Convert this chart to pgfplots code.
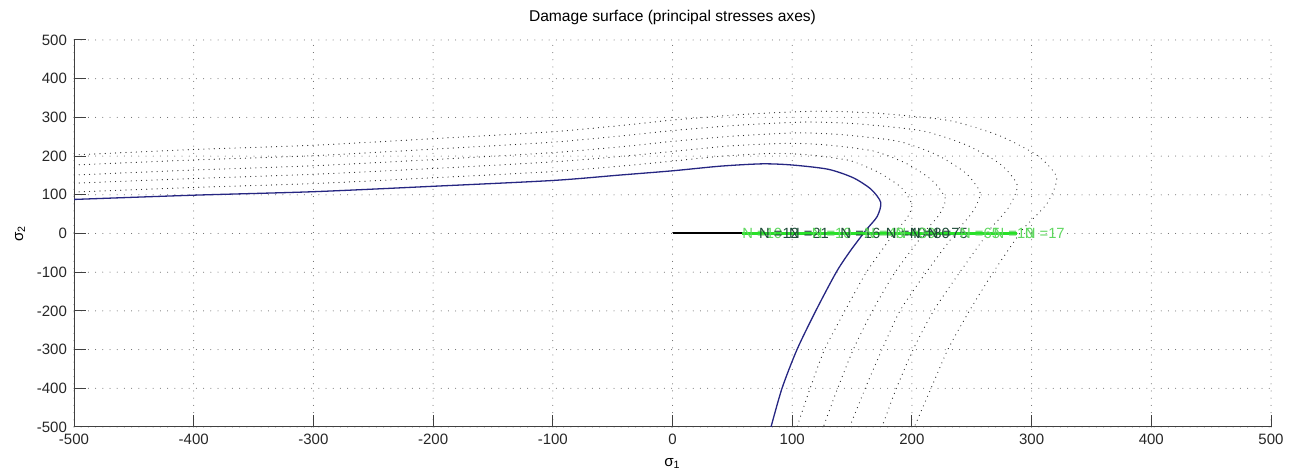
\documentclass[border=0pt]{standalone}
\usepackage{fontspec}
\setmainfont{Liberation Sans}
\usepackage{pgfplots}
\pgfplotsset{compat=1.18}
\definecolor{curveblue}{RGB}{38,38,130}
\definecolor{labgreen}{RGB}{95,215,95}
\definecolor{labdark}{RGB}{30,75,55}
\definecolor{linegreen}{RGB}{40,225,40}
\begin{document}
\begin{tikzpicture}
\useasboundingbox (-37pt,-24.5pt) rectangle (613.5pt,213.5pt);
\begin{axis}[at={(0,0)}, anchor=south west, scale only axis,
  width=598.5pt, height=193.5pt,
  xmin=-500, xmax=500, ymin=-500, ymax=500,
  axis x line=bottom, axis y line=left,
  axis line style={draw=black!75, line width=0.5pt, -},
  xtick={-500,-400,-300,-200,-100,0,100,200,300,400,500},
  ytick={-500,-400,-300,-200,-100,0,100,200,300,400,500},
  xticklabels={-500,-400,-300,-200,-100,0,100,200,300,400,500},
  yticklabels={-500,-400,-300,-200,-100,0,100,200,300,400,500},
  tick align=inside, major tick length=6pt,
  tick style={draw=black!75, line width=0.5pt},
  tick label style={font=\fontsize{7.5}{8.5}\selectfont, text=black!85},
  grid=major,
  major grid style={draw=black!65, line width=0.5pt, line cap=round, dash pattern=on 0pt off 3.6pt},
  title={Damage surface (principal stresses axes)},
  title style={at={(axis description cs:0.5,1.0284)}, anchor=center, font=\fontsize{7.8}{9}\selectfont},
  xlabel={σ\textsubscript{1}},
  ylabel={σ\textsubscript{2}},
  xlabel style={at={(axis description cs:0.5,-0.093)}, anchor=center, font=\fontsize{7.6}{9}\selectfont},
  ylabel style={at={(axis description cs:-0.0451,0.5)}, anchor=center, font=\fontsize{7.6}{9}\selectfont},
  clip=true,
]
% dotted damage surfaces
\pgfplotsset{dotsurf/.style={draw=black!85, line width=0.6pt, line cap=round, dash pattern=on 0pt off 2.6pt, smooth, tension=0.4}}
\addplot[dotsurf] coordinates {
(-500,107) (-400,119) (-300,129) (-200,144) (-100,160) (-40,175) (0,187) (42,200) (85,207) (114,203) (148,188.5) (172,158) (191,119) (200,75) (196,40.5) (187,8) (185,0) (162,-100) (144,-200) (127,-300) (115,-400) (104,-500)};
\addplot[dotsurf] coordinates {
(-500,130) (-400,142) (-300,153) (-200,168) (-100,185) (-40,200) (0,212) (47,226) (95,233) (128,229) (168,213) (196,180) (217,137) (228,90) (223,49) (212,10) (210,0) (186,-100) (167,-200) (151,-300) (138,-400) (126,-500)};
\addplot[dotsurf] coordinates {
(-500,151) (-400,164) (-300,175) (-200,191) (-100,209) (-40,225) (0,238) (52,252) (105,260) (143,255) (189,238) (221,203) (245,156) (257,105) (251,57) (239,12) (236,0) (212,-100) (190,-200) (175,-300) (161,-400) (148,-500)};
\addplot[dotsurf] coordinates {
(-500,177) (-400,190) (-300,201) (-200,218) (-100,236) (-40,253) (0,266) (56,280) (112,288) (156,283) (209,265) (246,228) (274,179) (288,125) (281,68) (266,14) (263,0) (240,-100) (218,-200) (201,-300) (187,-400) (175,-500)};
\addplot[dotsurf] coordinates {
(-500,203) (-400,217) (-300,228) (-200,245) (-100,263) (-40,280) (0,293) (60,308) (120,316) (170,311) (231,292) (273,253) (305,201) (321,145) (313,78) (294,16) (290,0) (268,-100) (248,-200) (230,-300) (216,-400) (202,-500)};
% solid current surface
\addplot[draw=curveblue, line width=0.65pt, smooth, tension=0.45] coordinates {
(-500,88) (-400,99) (-300,108) (-200,122) (-100,137) (-44,151) (0,162) (40,174) (75,180) (100,177) (130,166) (151,144) (166,114) (174,80) (171,44) (162,10) (149,-43) (137,-99) (120,-198) (104,-300) (91.5,-400) (82.3,-500)};
% loading path
\addplot[draw=black, line width=1pt] coordinates {(0,0) (58,0)};
\addplot[draw=linegreen, line width=1.1pt] coordinates {(58,0) (288,0)};
% labels
\begin{scope}[every node/.style={anchor=west, inner sep=0pt, font=\fontsize{7.4}{8.5}\selectfont}]
\node[text=labgreen] at (axis cs:58,0) {N =10};
\node[text=labdark] at (axis cs:72,0) {N =12};
\node[text=labdark] at (axis cs:97,0) {N =21};
\node[text=labgreen] at (axis cs:116,0) {N =10};
\node[text=labdark] at (axis cs:140,0) {N =16};
\node[text=labgreen] at (axis cs:160,0) {N =40};
\node[text=labdark] at (axis cs:178,0) {N =40};
\node[text=labgreen] at (axis cs:186,0) {N =30};
\node[text=labdark] at (axis cs:198,0) {N =80};
\node[text=labdark] at (axis cs:213,0) {N =75};
\node[text=labgreen] at (axis cs:240,0) {N =65};
\node[text=labgreen] at (axis cs:268,0) {N =10};
\node[text=labgreen] at (axis cs:294,0) {N =17};
\end{scope}
\end{axis}
\end{tikzpicture}
\end{document}
